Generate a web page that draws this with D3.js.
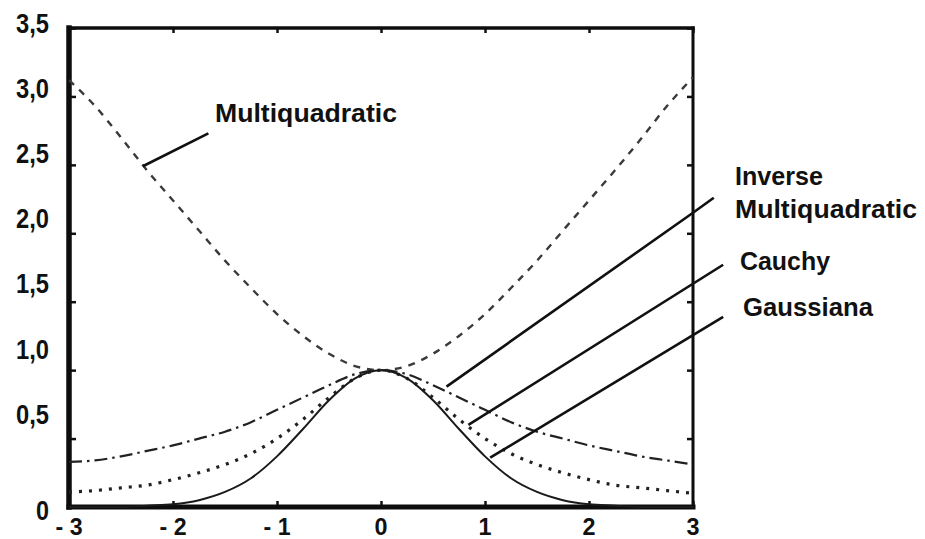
<!DOCTYPE html>
<html>
<head>
<meta charset="utf-8">
<script src="https://cdn.jsdelivr.net/npm/d3@7"></script>
<style>
  body { margin: 0; background: #fff; }
  svg text { font-family: "Liberation Sans Narrow", "Arial Narrow", "Liberation Sans", Arial, sans-serif; font-weight: bold; fill: #111; }
</style>
</head>
<body>
<div id="chart"></div>
<script>
// values, one point every 0.25 on x
var xValues = [-3, -2.75, -2.5, -2.25, -2, -1.75, -1.5, -1.25, -1, -0.75, -0.5, -0.25, 0,
               0.25, 0.5, 0.75, 1, 1.25, 1.5, 1.75, 2, 2.25, 2.5, 2.75, 3];
var multiquadratic = [3.12, 2.93, 2.70, 2.46, 2.24, 2.02, 1.80, 1.60, 1.41, 1.25, 1.12, 1.03, 1.00,
                      1.03, 1.12, 1.25, 1.41, 1.60, 1.80, 2.02, 2.24, 2.46, 2.69, 2.93, 3.14];
var inverseMultiquadratic = [0.33, 0.34, 0.37, 0.41, 0.45, 0.50, 0.55, 0.62, 0.71, 0.80, 0.89, 0.97, 1.00,
                             0.97, 0.89, 0.80, 0.71, 0.62, 0.55, 0.50, 0.45, 0.41, 0.37, 0.34, 0.31];
var cauchy = [0.11, 0.12, 0.14, 0.16, 0.20, 0.25, 0.31, 0.39, 0.50, 0.64, 0.80, 0.94, 1.00,
              0.94, 0.80, 0.64, 0.50, 0.39, 0.31, 0.25, 0.20, 0.16, 0.14, 0.12, 0.10];
var gaussiana = [0.00, 0.00, 0.00, 0.01, 0.02, 0.05, 0.11, 0.21, 0.37, 0.57, 0.78, 0.94, 1.00,
                 0.94, 0.78, 0.57, 0.37, 0.21, 0.11, 0.05, 0.02, 0.01, 0.00, 0.00, 0.00];

var xTicks = [-3, -2, -1, 0, 1, 2, 3];
var xTickLabels = ["- 3", "- 2", "- 1", "0", "1", "2", "3"];
var yTicks = [0, 0.5, 1, 1.5, 2, 2.5, 3, 3.5];
var yTickLabels = ["0", "0,5", "1,0", "1,5", "2,0", "2,5", "3,0", "3,5"];

var width = 925, height = 539;
var svg = d3.select('#chart').append('svg')
    .attr('width', width)
    .attr('height', height);

var x = d3.scaleLinear().domain([-3, 3]).range([69, 693]);
var y = d3.scaleLinear().domain([0, 3.5]).range([507, 28]);
// the scanned labels drift upward a little against their ticks
var yLabel = d3.scaleLinear().domain([0.5, 3.5]).range([414, 23]);

// inner ticks on all four sides
function noLabels(axis) {
    axis.tickFormat('').tickSizeOuter(0);
    return axis;
}
svg.append('g').attr('transform', 'translate(0,' + y(0) + ')')
    .call(noLabels(d3.axisBottom(x).tickValues(xTicks).tickSize(-6)));
svg.append('g').attr('transform', 'translate(0,' + y(3.5) + ')')
    .call(noLabels(d3.axisTop(x).tickValues(xTicks).tickSize(-5)));
svg.append('g').attr('transform', 'translate(' + x(-3) + ',0)')
    .call(noLabels(d3.axisLeft(y).tickValues(yTicks).tickSize(-7)));
svg.append('g').attr('transform', 'translate(' + x(3) + ',0)')
    .call(noLabels(d3.axisRight(y).tickValues(yTicks).tickSize(-6)));
svg.selectAll('.domain').remove();
svg.selectAll('.tick line').attr('stroke', '#111').attr('stroke-width', 2.5);

// frame, heavier on the left and bottom as in the scan
var frame = [
    { x1: -3, y1: 3.5, x2: -3, y2: 0, w: 5.5 },
    { x1: -3, y1: 0, x2: 3, y2: 0, w: 5 },
    { x1: -3, y1: 3.5, x2: 3, y2: 3.5, w: 3.5 },
    { x1: 3, y1: 3.5, x2: 3, y2: 0, w: 3 }
];
svg.selectAll('.frame').data(frame).enter().append('line')
    .attr('class', 'frame')
    .attr('x1', function(d) { return x(d.x1); })
    .attr('y1', function(d) { return y(d.y1); })
    .attr('x2', function(d) { return x(d.x2); })
    .attr('y2', function(d) { return y(d.y2); })
    .attr('stroke', '#0d0d0d')
    .attr('stroke-width', function(d) { return d.w; })
    .attr('stroke-linecap', 'square');

// tick labels, squeezed to the narrow face of the scan
svg.selectAll('.xlab').data(xTicks).enter().append('text')
    .attr('class', 'xlab')
    .attr('x', function(d) { return x(d); })
    .attr('y', 535)
    .attr('text-anchor', 'middle')
    .attr('textLength', function(d) { return d < 0 ? 27 : 13; })
    .attr('lengthAdjust', 'spacingAndGlyphs')
    .style('font-size', '24px')
    .text(function(d, i) { return xTickLabels[i]; });

svg.selectAll('.ylab').data(yTicks).enter().append('text')
    .attr('class', 'ylab')
    .attr('x', 49)
    .attr('y', function(d) { return d === 0 ? y(d) + 3 : yLabel(d); })
    .attr('dy', '0.36em')
    .attr('text-anchor', 'end')
    .attr('textLength', function(d) { return d === 0 ? 13 : 33; })
    .attr('lengthAdjust', 'spacingAndGlyphs')
    .style('font-size', '27px')
    .text(function(d, i) { return yTickLabels[i]; });

// curves
var series = [
    { name: 'Multiquadratic', values: multiquadratic, dash: '7,7', width: 2.4, color: '#3a3a3a' },
    { name: 'Inverse Multiquadratic', values: inverseMultiquadratic, dash: '13,5,2.5,5', width: 2.2, color: '#222' },
    { name: 'Cauchy', values: cauchy, dash: '3,7', width: 3.2, color: '#222' },
    { name: 'Gaussiana', values: gaussiana, dash: null, width: 2, color: '#1a1a1a' }
];
var line = d3.line()
    .x(function(d, i) { return x(xValues[i]); })
    .y(function(d) { return y(d); })
    .curve(d3.curveMonotoneX);

svg.selectAll('.curve').data(series).enter().append('path')
    .attr('class', 'curve')
    .attr('d', function(d) { return line(d.values); })
    .attr('fill', 'none')
    .attr('stroke', function(d) { return d.color; })
    .attr('stroke-width', function(d) { return d.width; })
    .attr('stroke-dasharray', function(d) { return d.dash; });

// leader lines, in data units so they land on the curves
var leaders = [
    [[-2.29, 2.49], [-1.66, 2.73]],
    [[0.63, 0.88], [3.0, 2.15], [3.2, 2.26]],
    [[0.84, 0.60], [3.29, 1.77]],
    [[1.05, 0.36], [3.29, 1.39]]
];
var leader = d3.line()
    .x(function(d) { return x(d[0]); })
    .y(function(d) { return y(d[1]); });
svg.selectAll('.leader').data(leaders).enter().append('path')
    .attr('class', 'leader')
    .attr('d', leader)
    .attr('fill', 'none')
    .attr('stroke', '#111')
    .attr('stroke-width', 2.6);

// labels
var labels = [
    { text: 'Multiquadratic', x: 215, y: 122, len: 182 },
    { text: 'Inverse', x: 735, y: 185, len: 88 },
    { text: 'Multiquadratic', x: 735, y: 218, len: 182 },
    { text: 'Cauchy', x: 740, y: 270, len: 90 },
    { text: 'Gaussiana', x: 743, y: 316, len: 130 }
];
svg.selectAll('.label').data(labels).enter().append('text')
    .attr('class', 'label')
    .attr('x', function(d) { return d.x; })
    .attr('y', function(d) { return d.y; })
    .attr('textLength', function(d) { return d.len; })
    .attr('lengthAdjust', 'spacingAndGlyphs')
    .style('font-size', '26px')
    .text(function(d) { return d.text; });
</script>
</body>
</html>
